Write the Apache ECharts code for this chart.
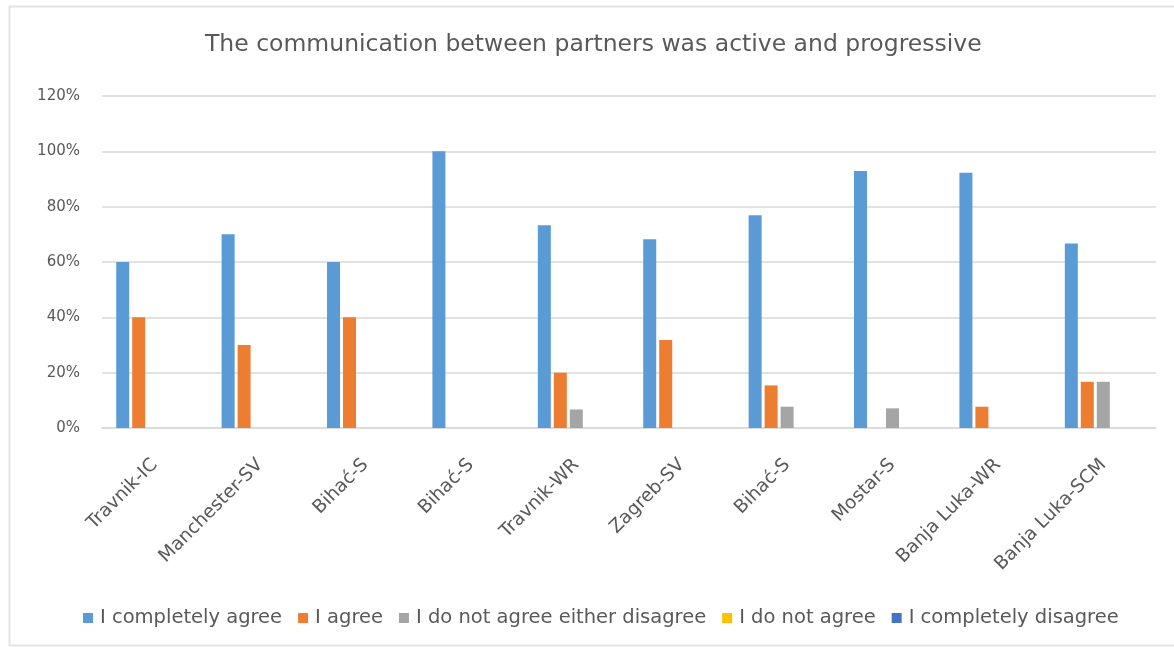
<!DOCTYPE html>
<html>
<head>
<meta charset="utf-8">
<script src="https://cdn.jsdelivr.net/npm/echarts@6/dist/echarts.min.js"></script>
<style>
html,body{margin:0;padding:0;background:#fff;}
#chart{width:1174px;height:647px;}
</style>
</head>
<body>
<div id="chart"></div>
<script>
const categories = ['Travnik-IC','Manchester-SV','Bihać-S','Bihać-S','Travnik-WR','Zagreb-SV','Bihać-S','Mostar-S','Banja Luka-WR','Banja Luka-SCM'];
const completelyAgree = [0.60, 0.70, 0.60, 1.00, 0.733, 0.682, 0.769, 0.929, 0.923, 0.667];
const agree = [0.40, 0.30, 0.40, 0, 0.20, 0.318, 0.154, 0, 0.077, 0.167];
const neither = [0, 0, 0, 0, 0.067, 0, 0.077, 0.071, 0, 0.167];
const notAgree = [0, 0, 0, 0, 0, 0, 0, 0, 0, 0];
const completelyDisagree = [0, 0, 0, 0, 0, 0, 0, 0, 0, 0];
const seriesNames = ['I completely agree','I agree','I do not agree either disagree','I do not agree','I completely disagree'];
const yTicks = [0, 0.2, 0.4, 0.6, 0.8, 1.0, 1.2];

const colors = ['#5B9BD5','#ED7D31','#A5A5A5','#FFC000','#4472C4'];
const dataSets = [completelyAgree, agree, neither, notAgree, completelyDisagree];
const FONT = 'DejaVu Sans';

const chart = echarts.init(document.getElementById('chart'), null, {renderer:'canvas'});
chart.setOption({
  animation:false,
  color: colors,
  title:{
    text:'The communication between partners was active and progressive',
    left:205, top:33, padding:0,
    textStyle:{fontFamily:FONT, fontSize:23.5, fontWeight:'normal', color:'#595959'}
  },
  graphic:[{type:'rect', shape:{x:9.5, y:6.5, width:1200, height:639}, style:{fill:'none', stroke:'#E3E3E3', lineWidth:2}, silent:true}],
  legend:{
    bottom:14, left:78, itemWidth:10, itemHeight:10, itemGap:16,
    icon:'rect',
    textStyle:{fontFamily:FONT, fontSize:19.5, color:'#595959', padding:[0,0,0,2]},
    data: seriesNames
  },
  grid:{left:102, right:18, top:96, bottom:219, containLabel:false},
  xAxis:{
    type:'category', data:categories,
    axisTick:{show:false},
    axisLine:{lineStyle:{color:'#D9D9D9', width:1.5}},
    axisLabel:{rotate:45, interval:0, fontFamily:FONT, fontSize:18.5, color:'#595959', margin:34}
  },
  yAxis:{
    type:'value', min:0, max:1.2, interval:0.2,
    axisLine:{show:false}, axisTick:{show:false},
    splitLine:{lineStyle:{color:'#D9D9D9', width:1.5}},
    axisLabel:{fontFamily:FONT, fontSize:15, color:'#595959', margin:22,
      formatter: v => Math.round(v*100)+'%'}
  },
  series: seriesNames.map((n,i)=>({
    name:n, type:'bar', data:dataSets[i], barWidth:13, barGap:'23%'
  }))
});
</script>
</body>
</html>
